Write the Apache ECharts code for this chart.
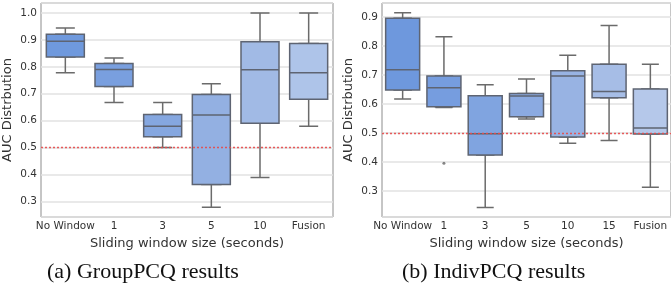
<!DOCTYPE html>
<html>
<head>
<meta charset="utf-8">
<script src="https://cdn.jsdelivr.net/npm/echarts@6/dist/echarts.min.js"></script>
<style>
  html, body { margin: 0; padding: 0; background: #fff; }
  #chart { width: 671px; height: 291px; }
</style>
</head>
<body>
<div id="chart"></div>
<script>
// boxes are [min, q1, median, q3, max]
const groupCats = ["No Window", "1", "3", "5", "10", "Fusion"];
const groupBoxes = [
  [0.778, 0.836, 0.895, 0.921, 0.944],
  [0.667, 0.727, 0.790, 0.812, 0.833],
  [0.500, 0.540, 0.579, 0.623, 0.667],
  [0.278, 0.363, 0.621, 0.697, 0.737],
  [0.389, 0.590, 0.789, 0.893, 1.000],
  [0.579, 0.679, 0.778, 0.887, 1.000],
];

const indivCats = ["No Window", "1", "3", "5", "10", "15", "Fusion"];
const indivBoxes = [
  [0.617, 0.648, 0.718, 0.895, 0.914],
  [0.588, 0.590, 0.656, 0.696, 0.832],
  [0.243, 0.424, 0.497, 0.628, 0.666],
  [0.548, 0.556, 0.627, 0.636, 0.686],
  [0.464, 0.486, 0.696, 0.714, 0.768],
  [0.474, 0.621, 0.643, 0.737, 0.870],
  [0.313, 0.496, 0.517, 0.651, 0.737],
];
const indivOutliers = [["1", 0.395]];

const chanceLevel = 0.5;

const groupColors = ["#6f99dd", "#799fdf", "#85a7e0", "#93b0e2", "#a1bae5", "#aec4e9"];
const indivColors = ["#6e98dd", "#769ddf", "#80a4e0", "#8baae1", "#98b3e3", "#a6bde6", "#b5c8ea"];

const textColor = "#333";
const font = "DejaVu Sans";
const redLine = { color: "#e54a4a", type: [2, 2], width: 1.3, opacity: 0.9 };

function xAxes(gridIndex, cats) {
  return [
    {
      gridIndex, type: "category", data: cats,
      axisLine: { show: false }, axisTick: { show: false },
      axisLabel: { color: textColor, fontFamily: font, fontSize: 10.5, margin: 4, interval: 0, hideOverlap: false },
      name: "Sliding window size (seconds)", nameLocation: "middle", nameGap: 20,
      nameTextStyle: { color: textColor, fontFamily: font, fontSize: 13 },
    },
    { gridIndex, type: "category", data: cats, show: false },
  ];
}

function yAxis(gridIndex, min, max, splitNumber) {
  return {
    gridIndex, type: "value", min, max, splitNumber,
    axisLine: { show: false }, axisTick: { show: false },
    axisLabel: {
      color: textColor, fontFamily: font, fontSize: 10.5, margin: 4,
      showMinLabel: false, showMaxLabel: false,
      formatter: (v) => v.toFixed(1),
    },
    splitLine: { lineStyle: { color: "#e2e2e2", width: 1.5 } },
    name: "AUC Distrbution", nameLocation: "middle", nameGap: 27,
    nameTextStyle: { color: textColor, fontFamily: font, fontSize: 13 },
  };
}

// two boxplots per panel: a narrow one for the whiskers underneath,
// a wide filled one (q1..q3 only) on top, so caps are half the box width
function boxSeries(axisBase, yIndex, boxes, colors, width) {
  return [
    {
      type: "boxplot", xAxisIndex: axisBase + 1, yAxisIndex: yIndex, z: 2,
      boxWidth: [width / 2, width / 2],
      itemStyle: { color: "#fff", borderColor: "#6b6b6b", borderWidth: 1.5 },
      data: boxes,
      silent: true,
    },
    {
      type: "boxplot", xAxisIndex: axisBase, yAxisIndex: yIndex, z: 3,
      boxWidth: [width, width],
      data: boxes.map((b, i) => ({
        value: [b[1], b[1], b[2], b[3], b[3]],
        itemStyle: { color: colors[i], borderColor: "#5e6472", borderWidth: 1.5 },
      })),
      silent: true,
    },
    {
      // empty carrier series for the 0.5 reference line
      type: "scatter", xAxisIndex: axisBase, yAxisIndex: yIndex, z: 6,
      data: [], silent: true,
      color: redLine.color,
      itemStyle: { color: redLine.color },
      markLine: {
        silent: true, symbol: "none",
        label: { show: false },
        itemStyle: { color: redLine.color },
        lineStyle: redLine,
        data: [{ yAxis: chanceLevel, lineStyle: redLine }],
      },
    },
  ];
}

const chart = echarts.init(document.getElementById("chart"));
chart.setOption({
  animation: false,
  title: [
    { text: "(a) GroupPCQ results", left: 42, top: 256,
      textStyle: { fontFamily: "Liberation Serif", fontWeight: "normal", fontSize: 22, color: "#111" } },
    { text: "(b) IndivPCQ results", left: 397, top: 256,
      textStyle: { fontFamily: "Liberation Serif", fontWeight: "normal", fontSize: 22, color: "#111" } },
  ],
  grid: [
    { left: 40, top: 3, width: 293, height: 214, show: true, borderColor: "#8c8c8c", borderWidth: 1 },
    { left: 382, top: 3, width: 292, height: 214, show: true, borderColor: "#8c8c8c", borderWidth: 1 },
  ],
  xAxis: [...xAxes(0, groupCats), ...xAxes(1, indivCats)],
  yAxis: [yAxis(0, 0.242, 1.037, 8), yAxis(1, 0.21, 0.948, 7)],
  series: [
    ...boxSeries(0, 0, groupBoxes, groupColors, 38),
    ...boxSeries(2, 1, indivBoxes, indivColors, 34),
    {
      type: "scatter", xAxisIndex: 2, yAxisIndex: 1, z: 4,
      symbolSize: 3, itemStyle: { color: "#666" },
      data: indivOutliers, silent: true,
    },
  ],
});
</script>
</body>
</html>
